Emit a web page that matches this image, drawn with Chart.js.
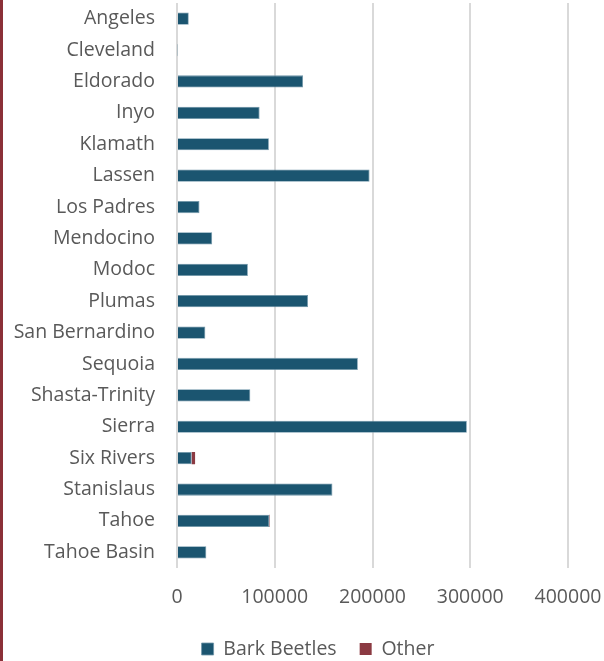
<!DOCTYPE html>
<html>
<head>
<meta charset="utf-8">
<script src="https://cdn.jsdelivr.net/npm/chart.js@4"></script>
<style>
  html, body { margin: 0; padding: 0; background: #fff; }
  #wrap { position: relative; width: 604px; height: 661px; overflow: hidden; }
  #edge { position: absolute; left: 0; top: 0; width: 3px; height: 661px; background: #8b3038; }
  canvas { position: absolute; left: 0; top: 0; }
</style>
</head>
<body>
<div id="wrap">
  <canvas id="c" width="604" height="661"></canvas>
  <div id="edge"></div>
</div>
<script>
const categories = ["Angeles","Cleveland","Eldorado","Inyo","Klamath","Lassen","Los Padres","Mendocino","Modoc","Plumas","San Bernardino","Sequoia","Shasta-Trinity","Sierra","Six Rivers","Stanislaus","Tahoe","Tahoe Basin"];
const barkBeetles = [12000, 500, 129000, 84500, 94000, 197000, 23000, 36000, 72500, 134000, 29000, 185000, 75000, 296500, 15000, 159000, 94500, 30000];
const other = [0, 0, 0, 0, 0, 0, 0, 0, 0, 0, 0, 0, 0, 0, 3500, 0, 500, 0];
const xTicks = [0, 100000, 200000, 300000, 400000];

const FONT = { family: "'Open Sans', sans-serif", size: 19.5 };
const TEXT = '#595959';

const legendShift = {
  id: 'legendShift',
  beforeDraw(chart) {
    const lg = chart.legend;
    if (lg && !lg._shifted) { lg.left += 34; lg.right += 34; lg._shifted = true; }
  }
};

new Chart(document.getElementById('c'), {
  type: 'bar',
  data: {
    labels: categories,
    datasets: [
      { label: 'Bark Beetles', data: barkBeetles, backgroundColor: '#1b5570', borderColor: '#6f95a8', borderWidth: 0.8, barPercentage: 0.39, categoryPercentage: 1 },
      { label: 'Other', data: other, backgroundColor: '#8b3a42', borderColor: '#8b3a42', borderWidth: 0, barPercentage: 0.39, categoryPercentage: 1 }
    ]
  },
  plugins: [legendShift],
  options: {
    indexAxis: 'y',
    responsive: false,
    animation: false,
    layout: { padding: { top: 3, right: 36, bottom: -7.75, left: 0 } },
    plugins: {
      legend: {
        position: 'bottom',
        labels: { boxWidth: 12, boxHeight: 12, padding: 23, color: TEXT, font: FONT }
      },
      tooltip: { enabled: false }
    },
    scales: {
      x: {
        stacked: true,
        min: xTicks[0],
        max: xTicks[xTicks.length - 1],
        afterBuildTicks: (s) => { s.ticks = xTicks.map(v => ({ value: v })); },
        afterFit: (s) => { s.height = 48.25; s.paddingLeft = 0; s.paddingRight = 0; },
        grid: { color: '#d9d9d9', lineWidth: 2, drawTicks: false },
        border: { display: false },
        ticks: { color: TEXT, font: FONT, padding: 18, maxRotation: 0, callback: (v) => String(v) }
      },
      y: {
        stacked: true,
        afterFit: (s) => { s.width = 177; s.paddingTop = 0; s.paddingBottom = 0; },
        grid: { display: false, drawTicks: false },
        border: { display: false },
        ticks: { color: TEXT, font: FONT, padding: 22, autoSkip: false }
      }
    }
  }
});
</script>
</body>
</html>
